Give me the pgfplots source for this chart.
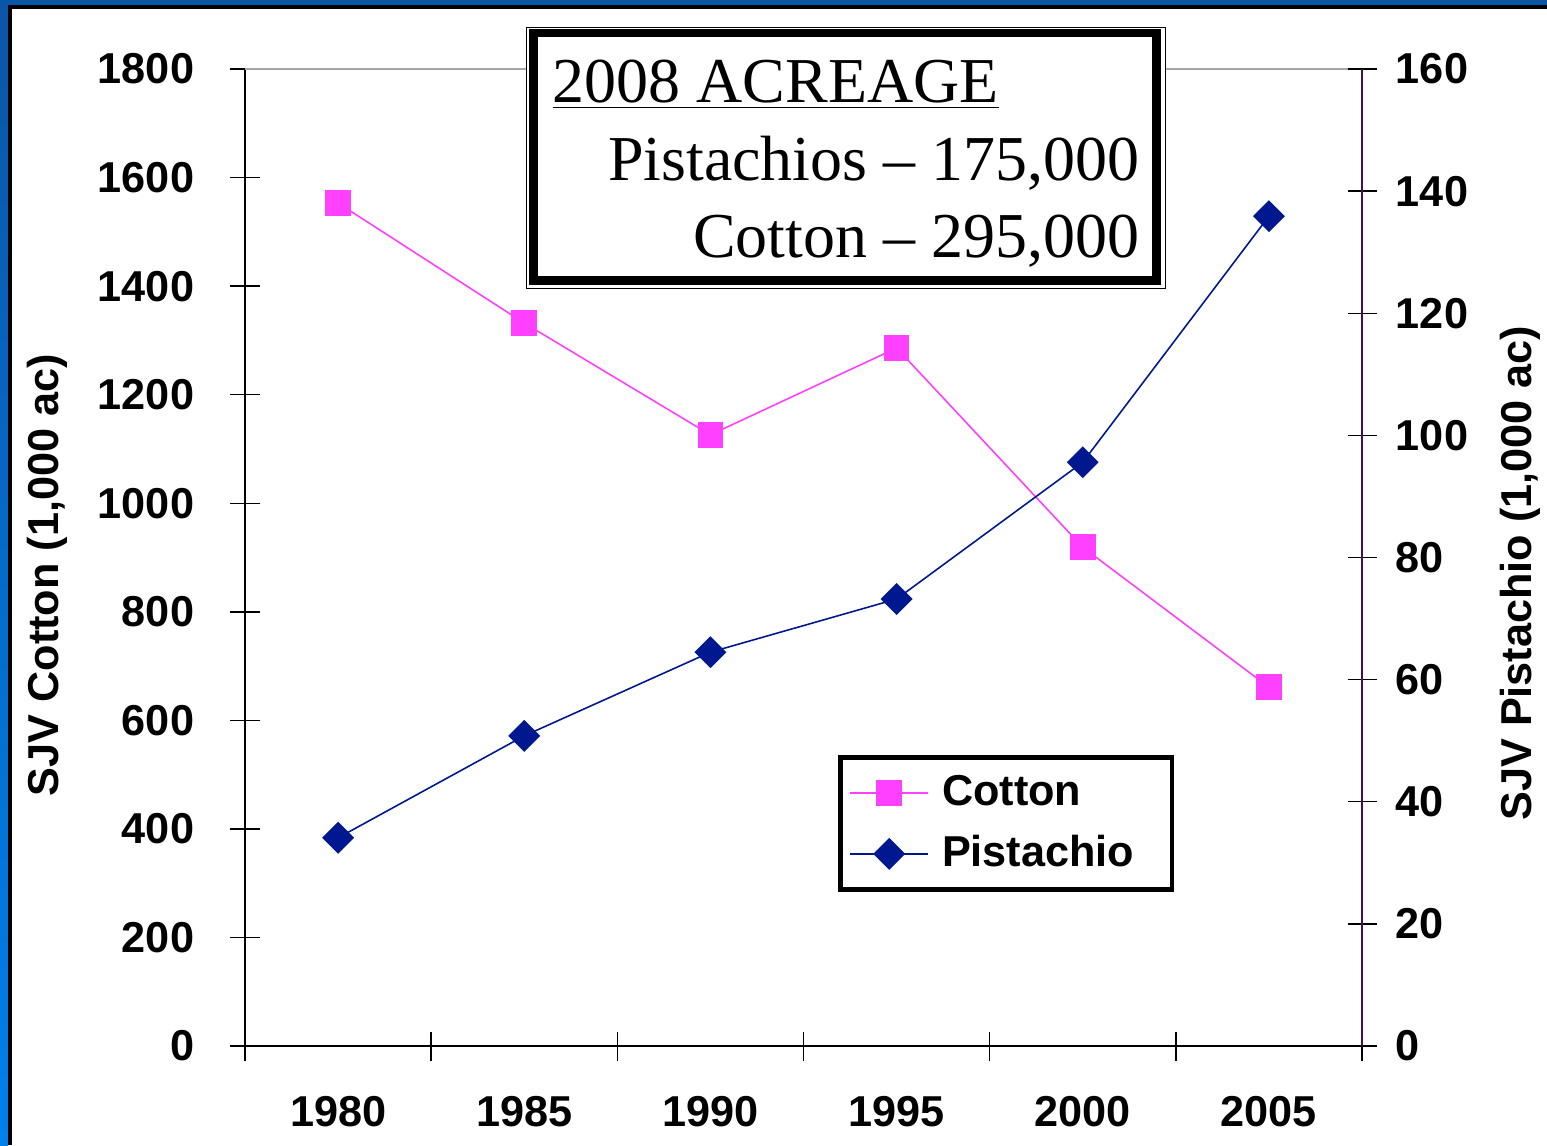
\documentclass[border=0pt]{standalone}
\usepackage{fontspec}
\setmainfont{Liberation Serif}
\newfontfamily\arial{Liberation Sans}
\usepackage{pgfplots}
\usepackage{pgfplotstable}
\pgfplotsset{compat=1.18}
\definecolor{cottonpink}{RGB}{255,64,255}
\definecolor{pistblue}{RGB}{0,24,143}
\definecolor{frameblue}{RGB}{10,86,166}
\definecolor{framelight}{RGB}{0,128,236}
\definecolor{rightax}{RGB}{72,16,72}
\newcommand\lab{\arial\bfseries\fontsize{12.3}{14}\selectfont}

% SJV acreage, 1,000 ac
\pgfplotstableread{
x cotton pist
0 1553 34.1
1 1332 50.8
2 1126 64.5
3 1286 73.2
4 919  95.6
5 661  135.9
}\acres

\pgfplotsset{
  base/.style={
    at={(2.45cm,-10.46cm)}, anchor=south west,
    scale only axis, width=11.17cm, height=9.77cm,
    xmin=-0.5, xmax=5.5,
    tick align=center, major tick length=0.29cm,
    tick style={black, line width=0.4pt},
    ticklabel style={font=\lab},
    /pgf/number format/assume math mode=true,
    /pgf/number format/1000 sep={},
    scaled ticks=false,
    label style={font=\lab},
    clip=false,
  },
  cottonstyle/.style={cottonpink, line width=0.45pt, mark=square*, mark size=0.12cm,
    mark options={solid, fill=cottonpink, draw=cottonpink}},
  piststyle/.style={pistblue, line width=0.45pt, mark=square*, mark size=0.105cm,
    mark options={solid, rotate=45, fill=pistblue, draw=pistblue}},
}

\begin{document}
\begin{tikzpicture}
\useasboundingbox (0,0) rectangle (15.47,-11.45);
\fill[white] (0,0) rectangle (15.47,-11.45);
% slide frame
\shade[top color=frameblue, bottom color=framelight] (0,0) rectangle (0.08,-11.45);
\fill[frameblue] (0,0) rectangle (15.47,-0.045);
\fill[black] (0.077,-0.045) rectangle (0.12,-11.45);
\fill[black] (0.077,-0.045) rectangle (15.47,-0.093);

\begin{axis}[base,
  ymin=0, ymax=1800,
  axis x line*=bottom, axis y line*=left,
  xtick={-0.5,0.5,...,5.5}, x tick label as interval,
  xticklabels={1980,1985,1990,1995,2000,2005},
  xticklabel style={yshift=-0.23cm},
  ytick={0,200,...,1800},
  yticklabel style={xshift=-0.24cm},
  ylabel={SJV Cotton (1,000 ac)},
  ylabel style={at={(axis description cs:-0.177,0.482)}, anchor=center},
  legend cell align=left,
  legend image code/.code={
    \draw[mark repeat=2, mark phase=2, #1] plot coordinates {(0cm,0cm) (0.39cm,0cm) (0.78cm,0cm)};
  },
  legend style={at={(axis description cs:0.531,0.2975)}, anchor=north west,
    draw=black, line width=1.3pt, fill=white, font=\lab,
    inner xsep=0.09cm, inner ysep=0.135cm, row sep=0.17cm,
    nodes={inner sep=0.04cm},
    /tikz/every odd column/.append style={column sep=0.09cm}},
]
\draw[gray!70, line width=0.6pt] (rel axis cs:0,1) -- (rel axis cs:1,1);
\addplot[cottonstyle] table[x=x, y=cotton] {\acres};
\addlegendentry{Cotton}
\addlegendimage{piststyle}
\addlegendentry{Pistachio\rule{0.25cm}{0pt}}
\end{axis}

\begin{axis}[base,
  ymin=0, ymax=160,
  axis x line=none, axis y line*=right,
  y axis line style={rightax},
  ytick={0,20,...,160},
  yticklabel style={xshift=0.07cm},
  ylabel={SJV Pistachio (1,000 ac)},
  ylabel style={at={(axis description cs:1.142,0.484)}, anchor=center},
]
\addplot[piststyle] table[x=x, y=pist] {\acres};
\end{axis}

% 2008 acreage note box
\fill[white] (5.26,-0.27) rectangle (11.65,-2.88);
\draw[black, line width=0.01cm] (5.26,-0.27) rectangle (11.65,-2.88);
\draw[black, line width=0.085cm] (5.335,-0.33) rectangle (11.565,-2.805);
\node[anchor=base west, inner sep=0pt, font=\fontsize{18.2}{21}\selectfont] at (5.52,-1.02) {\underline{2008 ACREAGE}};
\node[anchor=base east, inner sep=0pt, font=\fontsize{18.2}{21}\selectfont] at (11.40,-1.80) {Pistachios -- 175,000};
\node[anchor=base east, inner sep=0pt, font=\fontsize{18.2}{21}\selectfont] at (11.40,-2.57) {Cotton -- 295,000};
\end{tikzpicture}
\end{document}
